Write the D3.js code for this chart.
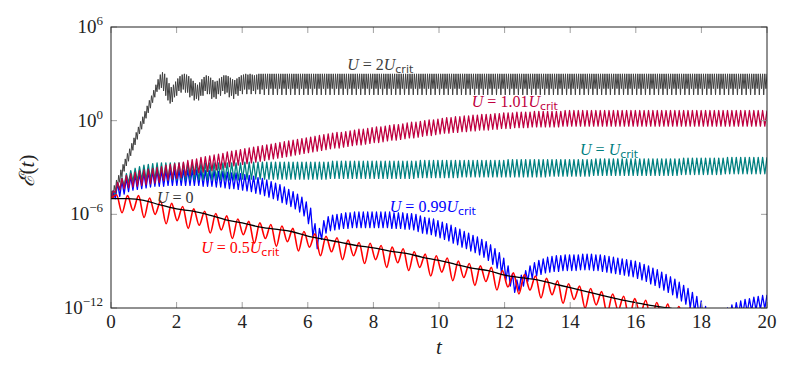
<!DOCTYPE html>
<html>
<head>
<meta charset="utf-8">
<script src="https://cdn.jsdelivr.net/npm/d3@7"></script>
<style>
  body { margin: 0; background: #fff; }
  svg text { fill: #222; }
</style>
</head>
<body>
<script>
// all energies stored as log10 exponents
var tMax = 20;
var xTicks = [0, 2, 4, 6, 8, 10, 12, 14, 16, 18, 20];
var yTickExp = [-12, -6, 0, 6];

// U = 2 Ucrit oscillates fastest: 300 low/high pairs over 0..20
var grayLo = [
  -5.0,-4.95,-4.6,-4.3,-3.95,-3.6,-3.25,-2.9,-2.6,-2.25,
  -1.9,-1.55,-1.2,-0.85,-0.55,-0.2,0.15,0.5,0.8,1.15,
  1.5,1.85,2.0,2.1,1.9,1.6,1.3,1.1,1.2,1.5,
  1.6,1.9,1.8,2.0,1.8,1.8,1.5,1.6,1.3,1.4,
  1.3,1.6,1.6,1.9,1.7,1.7,1.4,1.5,1.4,1.7,
  1.6,1.9,1.7,1.8,1.5,1.6,1.4,1.7,1.6,1.9,
  1.7,2.0,1.7,2.0,1.7,1.9,1.7,2.0,1.7,2.0,
  1.65,2.05,1.65,2.05,1.65,2.05,1.65,2.05,1.65,2.05,
  1.65,2.05,1.65,2.05,1.65,2.05,1.65,2.05,1.65,2.05,
  1.65,2.05,1.65,2.05,1.65,2.05,1.65,2.05,1.65,2.05,
  1.65,2.05,1.65,2.05,1.65,2.05,1.65,2.05,1.65,2.05,
  1.65,2.05,1.65,2.05,1.65,2.05,1.65,2.05,1.65,2.05,
  1.65,2.05,1.65,2.05,1.65,2.05,1.65,2.05,1.65,2.05,
  1.65,2.05,1.65,2.05,1.65,2.05,1.65,2.05,1.65,2.05,
  1.65,2.05,1.65,2.05,1.65,2.05,1.65,2.05,1.65,2.05,
  1.65,2.05,1.65,2.05,1.65,2.05,1.65,2.05,1.65,2.05,
  1.65,2.05,1.65,2.05,1.65,2.05,1.65,2.05,1.65,2.05,
  1.65,2.05,1.65,2.05,1.65,2.05,1.65,2.05,1.65,2.05,
  1.65,2.05,1.65,2.05,1.65,2.05,1.65,2.05,1.65,2.05,
  1.65,2.05,1.65,2.05,1.65,2.05,1.65,2.05,1.65,2.05,
  1.65,2.05,1.65,2.05,1.65,2.05,1.65,2.05,1.65,2.05,
  1.65,2.05,1.65,2.05,1.65,2.05,1.65,2.05,1.65,2.05,
  1.65,2.05,1.65,2.05,1.65,2.05,1.65,2.05,1.65,2.05,
  1.65,2.05,1.65,2.05,1.65,2.05,1.65,2.05,1.65,2.05,
  1.65,2.05,1.65,2.05,1.65,2.05,1.65,2.05,1.65,2.05,
  1.65,2.05,1.65,2.05,1.65,2.05,1.65,2.05,1.65,2.05,
  1.65,2.05,1.65,2.05,1.65,2.05,1.65,2.05,1.65,2.05,
  1.65,2.05,1.65,2.05,1.65,2.05,1.65,2.05,1.65,2.05,
  1.65,2.05,1.65,2.05,1.65,2.05,1.65,2.05,1.65,2.05,
  1.65,2.05,1.65,2.05,1.65,2.05,1.65,2.05,1.65,2.05
];
var grayHi = [
  -4.5,-4.15,-3.8,-3.5,-3.15,-2.8,-2.45,-2.1,-1.8,-1.45,
  -1.1,-0.75,-0.4,-0.05,0.25,0.6,0.95,1.3,1.6,1.95,
  2.3,2.65,2.95,3.1,3.0,2.75,2.4,2.15,2.3,2.5,
  2.7,2.85,2.95,3.0,2.95,2.85,2.7,2.55,2.4,2.3,
  2.45,2.65,2.8,2.9,2.85,2.75,2.6,2.5,2.55,2.7,
  2.8,2.9,2.9,2.85,2.75,2.65,2.6,2.7,2.8,2.9,
  2.95,3.0,2.95,3.0,2.95,2.9,2.95,3.0,3.0,3.0,
  3.0,3.0,3.0,3.0,3.0,3.0,3.0,3.0,3.0,3.0,
  3.0,3.0,3.0,3.0,3.0,3.0,3.0,3.0,3.0,3.0,
  3.0,3.0,3.0,3.0,3.0,3.0,3.0,3.0,3.0,3.0,
  3.0,3.0,3.0,3.0,3.0,3.0,3.0,3.0,3.0,3.0,
  3.0,3.0,3.0,3.0,3.0,3.0,3.0,3.0,3.0,3.0,
  3.0,3.0,3.0,3.0,3.0,3.0,3.0,3.0,3.0,3.0,
  3.0,3.0,3.0,3.0,3.0,3.0,3.0,3.0,3.0,3.0,
  3.0,3.0,3.0,3.0,3.0,3.0,3.0,3.0,3.0,3.0,
  3.0,3.0,3.0,3.0,3.0,3.0,3.0,3.0,3.0,3.0,
  3.0,3.0,3.0,3.0,3.0,3.0,3.0,3.0,3.0,3.0,
  3.0,3.0,3.0,3.0,3.0,3.0,3.0,3.0,3.0,3.0,
  3.0,3.0,3.0,3.0,3.0,3.0,3.0,3.0,3.0,3.0,
  3.0,3.0,3.0,3.0,3.0,3.0,3.0,3.0,3.0,3.0,
  3.0,3.0,3.0,3.0,3.0,3.0,3.0,3.0,3.0,3.0,
  3.0,3.0,3.0,3.0,3.0,3.0,3.0,3.0,3.0,3.0,
  3.0,3.0,3.0,3.0,3.0,3.0,3.0,3.0,3.0,3.0,
  3.0,3.0,3.0,3.0,3.0,3.0,3.0,3.0,3.0,3.0,
  3.0,3.0,3.0,3.0,3.0,3.0,3.0,3.0,3.0,3.0,
  3.0,3.0,3.0,3.0,3.0,3.0,3.0,3.0,3.0,3.0,
  3.0,3.0,3.0,3.0,3.0,3.0,3.0,3.0,3.0,3.0,
  3.0,3.0,3.0,3.0,3.0,3.0,3.0,3.0,3.0,3.0,
  3.0,3.0,3.0,3.0,3.0,3.0,3.0,3.0,3.0,3.0,
  3.0,3.0,3.0,3.0,3.0,3.0,3.0,3.0,3.0,3.0
];

// the other oscillating runs: one low/high pair per cycle (150 cycles over 0..20)
var pinkLo = [
  -5.0,-4.6,-4.45,-4.35,-4.3,-4.25,-4.2,-4.15,-4.1,-4.05,
  -4.0,-3.95,-3.85,-3.8,-3.75,-3.7,-3.65,-3.55,-3.5,-3.45,
  -3.35,-3.3,-3.25,-3.2,-3.15,-3.1,-3.0,-2.95,-2.9,-2.85,
  -2.8,-2.75,-2.7,-2.65,-2.6,-2.55,-2.5,-2.45,-2.4,-2.35,
  -2.3,-2.25,-2.2,-2.15,-2.1,-2.05,-2.0,-1.95,-1.9,-1.85,
  -1.8,-1.75,-1.75,-1.7,-1.65,-1.6,-1.55,-1.55,-1.5,-1.45,
  -1.4,-1.4,-1.35,-1.3,-1.25,-1.25,-1.2,-1.15,-1.1,-1.1,
  -1.05,-1.0,-0.95,-0.95,-0.9,-0.85,-0.8,-0.8,-0.75,-0.75,
  -0.7,-0.7,-0.65,-0.65,-0.6,-0.6,-0.6,-0.55,-0.55,-0.5,
  -0.5,-0.5,-0.45,-0.45,-0.45,-0.45,-0.4,-0.4,-0.4,-0.4,
  -0.4,-0.4,-0.4,-0.35,-0.35,-0.35,-0.35,-0.35,-0.35,-0.35,
  -0.35,-0.35,-0.35,-0.35,-0.35,-0.35,-0.35,-0.35,-0.35,-0.35,
  -0.35,-0.35,-0.35,-0.35,-0.35,-0.35,-0.35,-0.35,-0.35,-0.35,
  -0.35,-0.35,-0.35,-0.35,-0.35,-0.35,-0.35,-0.35,-0.35,-0.35,
  -0.35,-0.35,-0.35,-0.35,-0.35,-0.35,-0.35,-0.35,-0.35,-0.35
];
var pinkHi = [
  -4.5,-3.95,-3.7,-3.5,-3.4,-3.3,-3.2,-3.15,-3.1,-3.05,
  -3.0,-2.95,-2.85,-2.8,-2.75,-2.7,-2.65,-2.55,-2.5,-2.45,
  -2.35,-2.3,-2.25,-2.2,-2.15,-2.1,-2.0,-1.95,-1.9,-1.85,
  -1.8,-1.75,-1.7,-1.65,-1.6,-1.55,-1.5,-1.45,-1.4,-1.35,
  -1.3,-1.25,-1.2,-1.15,-1.1,-1.05,-1.0,-0.95,-0.9,-0.85,
  -0.8,-0.75,-0.75,-0.7,-0.65,-0.6,-0.55,-0.55,-0.5,-0.45,
  -0.4,-0.4,-0.35,-0.3,-0.25,-0.25,-0.2,-0.15,-0.1,-0.1,
  -0.05,0.0,0.05,0.05,0.1,0.15,0.2,0.2,0.25,0.25,
  0.3,0.3,0.35,0.35,0.4,0.4,0.4,0.45,0.45,0.5,
  0.5,0.5,0.55,0.55,0.55,0.55,0.6,0.6,0.6,0.6,
  0.6,0.6,0.6,0.65,0.65,0.65,0.65,0.65,0.65,0.65,
  0.65,0.65,0.65,0.65,0.65,0.65,0.65,0.65,0.65,0.65,
  0.65,0.65,0.65,0.65,0.65,0.65,0.65,0.65,0.65,0.65,
  0.65,0.65,0.65,0.65,0.65,0.65,0.65,0.65,0.65,0.65,
  0.65,0.65,0.65,0.65,0.65,0.65,0.65,0.65,0.65,0.65
];

var tealLo = [
  -5.0,-4.7,-4.4,-4.2,-4.0,-3.9,-3.85,-3.8,-3.8,-3.8,
  -3.8,-3.8,-3.8,-3.8,-3.8,-3.8,-3.8,-3.8,-3.8,-3.8,
  -3.8,-3.8,-3.8,-3.8,-3.8,-3.8,-3.8,-3.8,-3.8,-3.8,
  -3.75,-3.75,-3.75,-3.75,-3.75,-3.75,-3.75,-3.75,-3.75,-3.75,
  -3.75,-3.75,-3.75,-3.75,-3.75,-3.75,-3.75,-3.75,-3.75,-3.75,
  -3.7,-3.7,-3.7,-3.7,-3.7,-3.7,-3.7,-3.7,-3.7,-3.7,
  -3.7,-3.7,-3.7,-3.7,-3.7,-3.7,-3.7,-3.7,-3.7,-3.7,
  -3.65,-3.65,-3.65,-3.65,-3.65,-3.65,-3.65,-3.65,-3.65,-3.65,
  -3.6,-3.6,-3.6,-3.6,-3.6,-3.6,-3.6,-3.6,-3.6,-3.6,
  -3.6,-3.6,-3.6,-3.6,-3.6,-3.6,-3.6,-3.6,-3.6,-3.6,
  -3.55,-3.55,-3.55,-3.55,-3.55,-3.55,-3.55,-3.55,-3.55,-3.55,
  -3.5,-3.5,-3.5,-3.5,-3.5,-3.5,-3.5,-3.5,-3.5,-3.5,
  -3.5,-3.5,-3.5,-3.5,-3.5,-3.5,-3.5,-3.5,-3.5,-3.5,
  -3.45,-3.45,-3.45,-3.45,-3.45,-3.45,-3.45,-3.45,-3.45,-3.45,
  -3.4,-3.4,-3.4,-3.4,-3.4,-3.4,-3.4,-3.4,-3.4,-3.4
];
var tealHi = [
  -4.5,-4.0,-3.65,-3.4,-3.2,-3.05,-2.95,-2.85,-2.8,-2.75,
  -2.7,-2.7,-2.7,-2.7,-2.7,-2.7,-2.7,-2.7,-2.7,-2.7,
  -2.7,-2.7,-2.7,-2.7,-2.7,-2.7,-2.7,-2.7,-2.7,-2.7,
  -2.65,-2.65,-2.65,-2.65,-2.65,-2.65,-2.65,-2.65,-2.65,-2.65,
  -2.65,-2.65,-2.65,-2.65,-2.65,-2.65,-2.65,-2.65,-2.65,-2.65,
  -2.6,-2.6,-2.6,-2.6,-2.6,-2.6,-2.6,-2.6,-2.6,-2.6,
  -2.6,-2.6,-2.6,-2.6,-2.6,-2.6,-2.6,-2.6,-2.6,-2.6,
  -2.55,-2.55,-2.55,-2.55,-2.55,-2.55,-2.55,-2.55,-2.55,-2.55,
  -2.55,-2.55,-2.55,-2.55,-2.55,-2.55,-2.55,-2.55,-2.55,-2.55,
  -2.5,-2.5,-2.5,-2.5,-2.5,-2.5,-2.5,-2.5,-2.5,-2.5,
  -2.5,-2.5,-2.5,-2.5,-2.5,-2.5,-2.5,-2.5,-2.5,-2.5,
  -2.45,-2.45,-2.45,-2.45,-2.45,-2.45,-2.45,-2.45,-2.45,-2.45,
  -2.45,-2.45,-2.45,-2.45,-2.45,-2.45,-2.45,-2.45,-2.45,-2.45,
  -2.4,-2.4,-2.4,-2.4,-2.4,-2.4,-2.4,-2.4,-2.4,-2.4,
  -2.35,-2.35,-2.35,-2.35,-2.35,-2.35,-2.35,-2.35,-2.35,-2.35
];

var blueLo = [
  -5.0,-5.0,-4.85,-4.7,-4.55,-4.45,-4.4,-4.35,-4.3,-4.25,
  -4.2,-4.2,-4.2,-4.15,-4.15,-4.15,-4.15,-4.15,-4.15,-4.15,
  -4.15,-4.2,-4.2,-4.2,-4.25,-4.25,-4.3,-4.35,-4.35,-4.4,
  -4.45,-4.5,-4.55,-4.65,-4.7,-4.8,-4.9,-5.0,-5.1,-5.25,
  -5.35,-5.5,-5.65,-5.85,-6.1,-6.6,-7.4,-8.2,-7.6,-7.2,
  -7.05,-7.0,-6.95,-6.9,-6.9,-6.85,-6.85,-6.85,-6.85,-6.85,
  -6.85,-6.85,-6.85,-6.85,-6.9,-6.9,-6.9,-6.95,-6.95,-7.0,
  -7.1,-7.2,-7.25,-7.3,-7.4,-7.5,-7.6,-7.7,-7.85,-7.95,
  -8.1,-8.2,-8.35,-8.45,-8.6,-8.75,-8.95,-9.2,-9.45,-9.8,
  -10.2,-10.6,-11.0,-10.9,-10.6,-10.3,-10.1,-9.95,-9.85,-9.75,
  -9.7,-9.65,-9.65,-9.6,-9.6,-9.6,-9.6,-9.55,-9.55,-9.55,
  -9.6,-9.6,-9.65,-9.7,-9.75,-9.8,-9.85,-9.9,-9.95,-10.0,
  -10.1,-10.2,-10.3,-10.45,-10.55,-10.7,-10.85,-11.0,-11.15,-11.35,
  -11.55,-11.75,-12.0,-12.25,-12.55,-12.9,-13.3,-13.8,-14.3,-13.7,
  -13.1,-12.8,-12.65,-12.5,-12.4,-12.3,-12.2,-12.15,-12.1,-12.05
];
var blueHi = [
  -4.5,-4.0,-3.85,-3.7,-3.55,-3.45,-3.4,-3.35,-3.3,-3.25,
  -3.2,-3.2,-3.2,-3.15,-3.15,-3.15,-3.15,-3.15,-3.15,-3.15,
  -3.15,-3.2,-3.2,-3.2,-3.25,-3.25,-3.3,-3.35,-3.35,-3.4,
  -3.45,-3.5,-3.55,-3.65,-3.7,-3.8,-3.9,-4.0,-4.1,-4.25,
  -4.4,-4.55,-4.7,-4.9,-5.2,-5.6,-6.6,-6.9,-6.4,-6.15,
  -6.05,-6.0,-5.95,-5.9,-5.9,-5.85,-5.85,-5.85,-5.85,-5.85,
  -5.85,-5.85,-5.85,-5.85,-5.9,-5.9,-5.9,-5.95,-5.95,-6.0,
  -6.1,-6.2,-6.25,-6.3,-6.4,-6.5,-6.6,-6.7,-6.85,-6.95,
  -7.1,-7.2,-7.35,-7.45,-7.6,-7.75,-7.95,-8.2,-8.45,-8.8,
  -9.3,-9.8,-10.2,-9.9,-9.6,-9.3,-9.1,-8.95,-8.85,-8.75,
  -8.7,-8.65,-8.65,-8.6,-8.6,-8.6,-8.6,-8.55,-8.55,-8.55,
  -8.6,-8.6,-8.65,-8.7,-8.75,-8.8,-8.85,-8.9,-8.95,-9.0,
  -9.1,-9.2,-9.3,-9.45,-9.55,-9.7,-9.85,-10.0,-10.15,-10.35,
  -10.55,-10.75,-11.0,-11.25,-11.55,-11.9,-12.3,-12.8,-13.2,-12.6,
  -12.0,-11.8,-11.65,-11.55,-11.45,-11.4,-11.3,-11.25,-11.2,-11.15
];

// U = 0.5 Ucrit: slower wobble, 60 cycles
var redLo = [
  -5.0,-5.9,-5.75,-6.2,-6.0,-6.6,-6.4,-6.9,-6.7,-7.2,
  -7.0,-7.55,-7.3,-7.85,-7.55,-8.05,-7.75,-8.35,-8.1,-8.65,
  -8.4,-8.9,-8.65,-9.15,-8.9,-9.4,-9.1,-9.6,-9.4,-9.95,
  -9.7,-10.25,-10.05,-10.55,-10.3,-10.85,-10.65,-11.1,-10.85,-11.35,
  -11.15,-11.7,-11.45,-12.0,-11.8,-12.35,-12.15,-12.65,-12.4,-12.9,
  -12.65,-13.15,-12.9,-13.4,-13.2,-13.7,-13.5,-14.0,-13.8,-14.2
];
var redHi = [
  -4.75,-4.8,-4.8,-4.95,-5.15,-5.3,-5.5,-5.65,-5.8,-5.95,
  -6.1,-6.3,-6.45,-6.55,-6.65,-6.75,-6.9,-7.1,-7.25,-7.4,
  -7.5,-7.65,-7.8,-7.85,-8.0,-8.1,-8.2,-8.4,-8.55,-8.65,
  -8.8,-9.0,-9.15,-9.3,-9.4,-9.6,-9.75,-9.85,-9.95,-10.1,
  -10.25,-10.45,-10.6,-10.75,-10.95,-11.1,-11.25,-11.4,-11.5,-11.65,
  -11.75,-11.9,-12.0,-12.1,-12.25,-12.4,-12.55,-12.7,-12.85,-13.0
];

// U = 0: smooth decay
var zeroT = [0,0.5,1,1.5,2,2.5,3,3.5,4,4.5,5,5.5,6,6.5,7,7.5,8,8.5,9,9.5,10,
             10.5,11,11.5,12,12.5,13,13.5,14,14.5,15,15.5,16,16.5,17,17.5,18];
var zeroE = [-5.0,-5.0,-5.1,-5.4,-5.65,-5.8,-6.05,-6.35,-6.55,-6.8,-6.95,-7.1,-7.4,
             -7.6,-7.8,-8.0,-8.15,-8.35,-8.5,-8.75,-8.95,-9.2,-9.45,-9.6,-9.9,-10.05,
             -10.2,-10.45,-10.7,-10.95,-11.2,-11.45,-11.65,-11.85,-12.0,-12.2,-12.4];

var series = [
  {name: "2", hi: grayHi, lo: grayLo, colour: "#404040", w: 1.0},
  {name: "0.99", hi: blueHi, lo: blueLo, colour: "#0000ff", w: 1.3},
  {name: "1", hi: tealHi, lo: tealLo, colour: "#008080", w: 1.3},
  {name: "1.01", hi: pinkHi, lo: pinkLo, colour: "#bf0040", w: 1.3},
  {name: "0.5", hi: redHi, lo: redLo, colour: "#ff0000", w: 1.6, smooth: true}
];

// curve labels: coefficient, whether "U_crit" follows, anchor in data coords
var labels = [
  {coef: "2", crit: true, t: 7.2, e: 3.24, colour: "#404040"},
  {coef: "1.01", crit: true, t: 11.0, e: 0.87, colour: "#bf0040"},
  {coef: "", crit: true, t: 14.3, e: -2.2, colour: "#008080"},
  {coef: "0.99", crit: true, t: 8.5, e: -5.83, colour: "#0000ff"},
  {coef: "0", crit: false, t: 1.4, e: -5.28, colour: "#333333"},
  {coef: "0.5", crit: true, t: 2.75, e: -8.49, colour: "#ff0000"}
];

var W = 797, H = 374;
var pLeft = 111, pRight = 767, pTop = 27, pBottom = 308;

var x = d3.scaleLinear().domain([0, tMax]).range([pLeft, pRight]);
var y = d3.scaleLog().domain([1e-12, 1e6]).range([pBottom, pTop]);

var svg = d3.select("body").append("svg")
  .attr("width", W).attr("height", H)
  .style("font-family", "'Liberation Serif', 'DejaVu Serif', serif");

svg.append("defs").append("clipPath").attr("id", "plot")
  .append("rect")
  .attr("x", pLeft).attr("y", pTop)
  .attr("width", pRight - pLeft).attr("height", pBottom - pTop);

function zigzag(hi, lo) {
  var step = tMax / (hi.length - 0.5);
  var pts = [];
  for (var i = 0; i < hi.length; i++) {
    pts.push([i * step, lo[i]]);
    pts.push([(i + 0.5) * step, hi[i]]);
  }
  return pts;
}

var line = d3.line()
  .x(function(d) { return x(d[0]); })
  .y(function(d) { return y(Math.pow(10, d[1])); });

var plot = svg.append("g").attr("clip-path", "url(#plot)");

series.forEach(function(s) {
  plot.append("path")
    .datum(zigzag(s.hi, s.lo))
    .attr("fill", "none")
    .attr("stroke", s.colour)
    .attr("stroke-width", s.w)
    .attr("stroke-linejoin", "round")
    .attr("d", line.curve(s.smooth ? d3.curveMonotoneX : d3.curveLinear));
});

plot.append("path")
  .datum(zeroT.map(function(t, i) { return [t, zeroE[i]]; }))
  .attr("fill", "none")
  .attr("stroke", "#000")
  .attr("stroke-width", 1.3)
  .attr("d", line.curve(d3.curveMonotoneX));

// ticks (inside, grey) on all four sides
var tickCol = "#a0a0a0";
var tickLen = 6;
var axes = svg.append("g");
xTicks.forEach(function(t) {
  axes.append("line").attr("x1", x(t)).attr("x2", x(t))
    .attr("y1", pBottom).attr("y2", pBottom - tickLen).attr("stroke", tickCol);
  axes.append("line").attr("x1", x(t)).attr("x2", x(t))
    .attr("y1", pTop).attr("y2", pTop + tickLen).attr("stroke", tickCol);
  axes.append("text")
    .attr("x", x(t)).attr("y", pBottom + 20)
    .attr("text-anchor", "middle")
    .attr("font-size", 19)
    .text(t);
});

yTickExp.forEach(function(e) {
  var yy = y(Math.pow(10, e));
  axes.append("line").attr("x1", pLeft).attr("x2", pLeft + tickLen)
    .attr("y1", yy).attr("y2", yy).attr("stroke", tickCol);
  axes.append("line").attr("x1", pRight).attr("x2", pRight - tickLen)
    .attr("y1", yy).attr("y2", yy).attr("stroke", tickCol);
  var txt = axes.append("text")
    .attr("x", pLeft - 8).attr("y", yy + 6)
    .attr("text-anchor", "end")
    .attr("font-size", 19);
  txt.append("tspan").text("10");
  txt.append("tspan").attr("dy", -8).attr("font-size", 13)
    .text(String(e).replace("-", "\u2212"));
});

svg.append("rect")
  .attr("x", pLeft).attr("y", pTop)
  .attr("width", pRight - pLeft).attr("height", pBottom - pTop)
  .attr("fill", "none").attr("stroke", "#222").attr("stroke-width", 1);

// axis titles
svg.append("text")
  .attr("x", (pLeft + pRight) / 2).attr("y", 354)
  .attr("text-anchor", "middle")
  .attr("font-size", 21).attr("font-style", "italic")
  .text("t");

var yl = svg.append("text")
  .attr("transform", "translate(34,171) rotate(-90)")
  .attr("text-anchor", "middle")
  .attr("font-size", 21);
yl.append("tspan").attr("font-family", "'DejaVu Serif', serif").attr("font-style", "italic").text("\u2130");
yl.append("tspan").text("(");
yl.append("tspan").attr("font-style", "italic").text("t");
yl.append("tspan").text(")");

// curve labels
labels.forEach(function(l) {
  var tx = svg.append("text")
    .attr("x", x(l.t)).attr("y", y(Math.pow(10, l.e)))
    .attr("font-size", 16)
    .style("fill", l.colour);
  tx.append("tspan").attr("font-style", "italic").text("U");
  tx.append("tspan").text(" = " + l.coef);
  if (l.crit) {
    tx.append("tspan").attr("font-style", "italic").text("U");
    tx.append("tspan")
      .attr("dy", 3)
      .attr("font-size", 11)
      .attr("font-family", "'DejaVu Sans', sans-serif")
      .text("crit");
  }
});
</script>
</body>
</html>
